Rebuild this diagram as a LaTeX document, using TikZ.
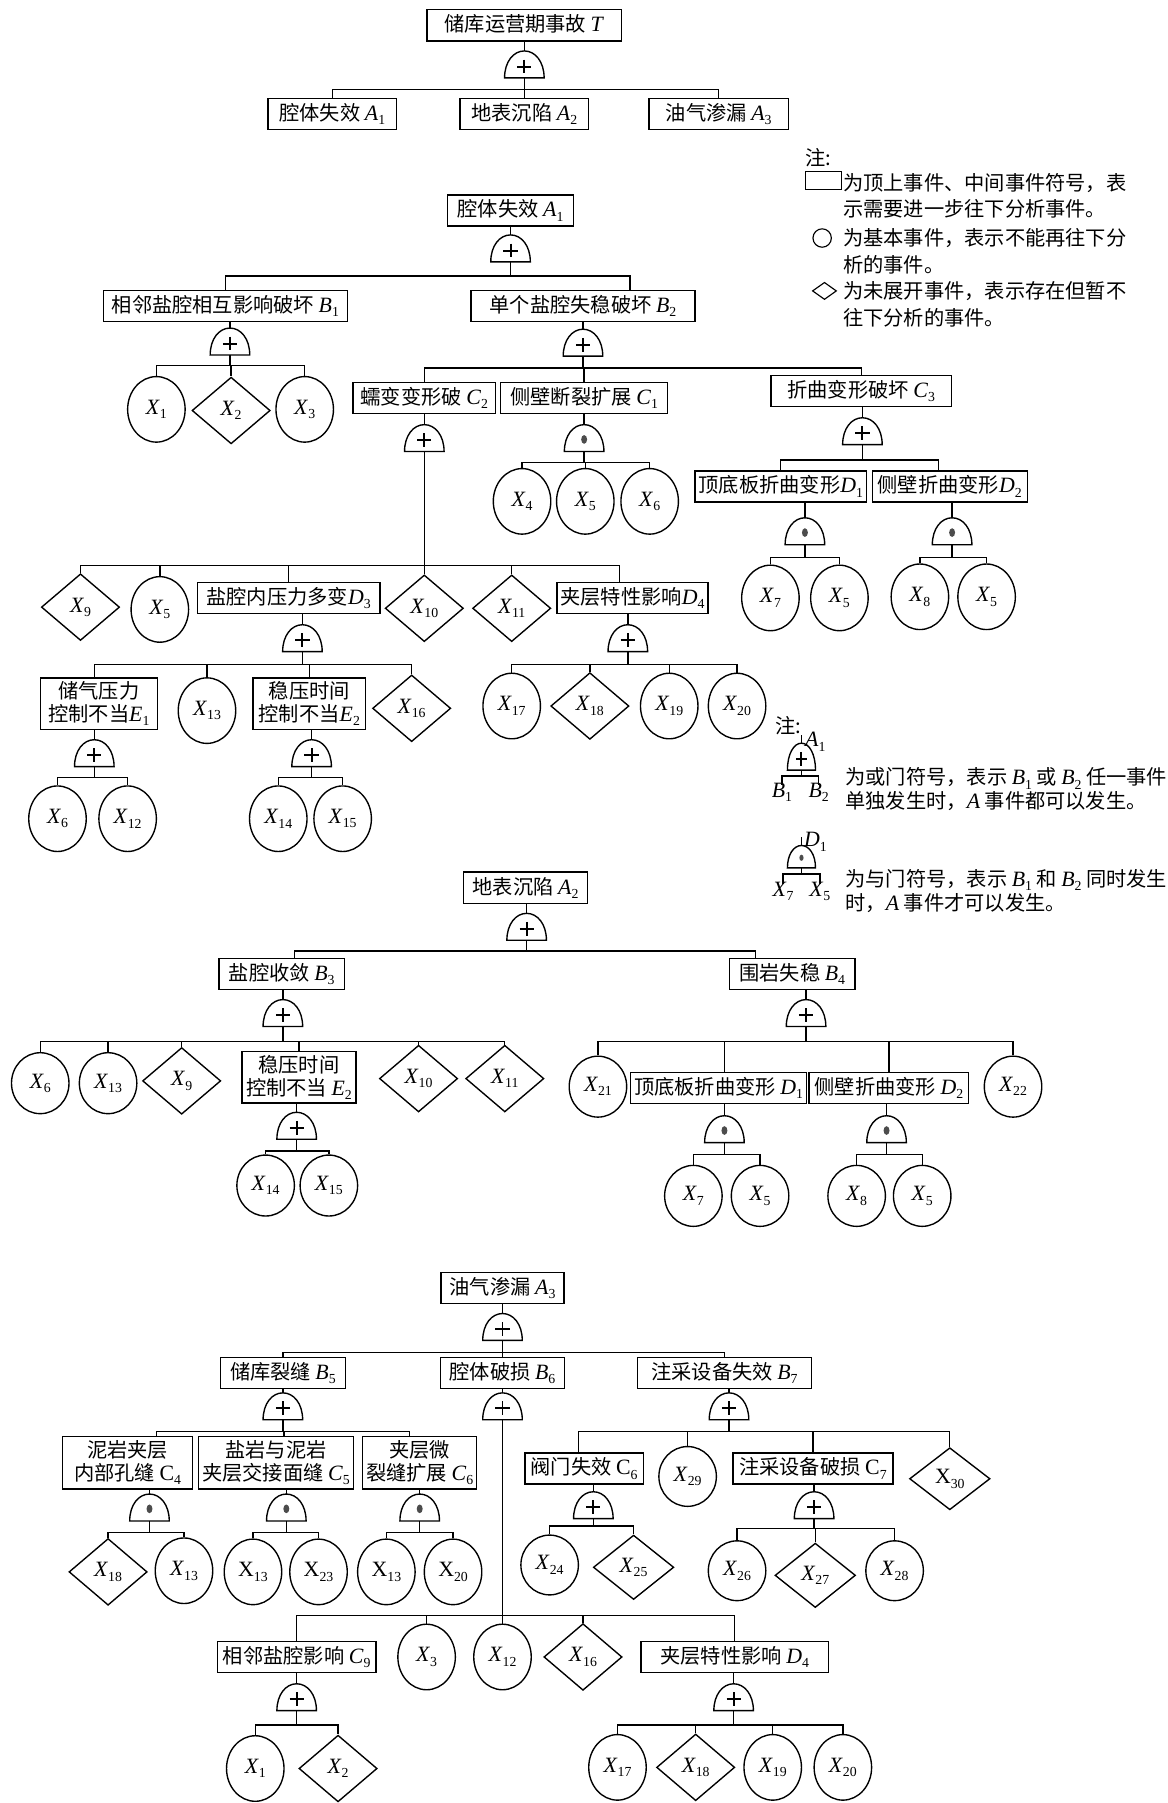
\documentclass[tikz,border=0pt]{standalone}
\usepackage{fontspec}
\setmainfont{Liberation Serif}
\newfontfamily\cjk{Noto Sans CJK SC}
\usetikzlibrary{shapes.geometric, calc}

% event labels: italic letter with upright index
\newcommand{\ev}[2]{{\rmfamily\fontsize{19}{20}\selectfont\textit{#1}\raisebox{-0.2em}{\fontsize{12}{12}\selectfont #2}}}
\newcommand{\evu}[2]{{\rmfamily\fontsize{19}{20}\selectfont #1\raisebox{-0.2em}{\fontsize{12}{12}\selectfont #2}}}

\tikzset{
	every node/.style={font=\cjk\fontsize{17.6}{20}\selectfont, inner sep=0pt},
	wire/.style={line width=1.2pt}, % connectors
	gateline/.style={line width=1.2pt},
	plusline/.style={line width=1.7pt},
	evbox/.style={draw, line width=1.2pt, minimum height=27, inner xsep=3pt, inner ysep=3pt, align=center}, % top and middle events
	basic/.style={draw, ellipse, line width=1.2pt, minimum width=50, minimum height=57}, % basic events
	undev/.style={draw, diamond, line width=1.2pt, minimum width=68, minimum height=58}, % undeveloped events
	gate/.style={minimum width=34, minimum height=23, inner sep=0pt},
}

\newcommand{\gatebody}[1]{\draw[gateline] (#1.south west) .. controls ($(#1.south west)!0.6!(#1.north west)$) and ($(#1.north)!0.55!(#1.north west)$) .. (#1.north) .. controls ($(#1.north)!0.55!(#1.north east)$) and ($(#1.south east)!0.6!(#1.north east)$) .. (#1.south east) -- cycle;}

\newcommand{\orgate}[3][]{%
	\node[gate,#1] (#3) at (#2) {};
	\gatebody{#3}
	\coordinate (#3c) at ($(#3.south)!0.42!(#3.north)$);
	\draw[plusline] ($(#3c)!0.36!(#3c -| #3.west)$) -- ($(#3c)!0.36!(#3c -| #3.east)$)
		($(#3c)!0.45!(#3c |- #3.north)$) -- ($(#3c)!0.6!(#3c |- #3.south)$);}

\newcommand{\andgate}[3][]{%
	\node[gate,#1] (#3) at (#2) {};
	\gatebody{#3}
	\coordinate (#3c) at ($(#3.south)!0.45!(#3.north)$);
	\fill[black!70] let \p1=($(#3.east)-(#3.west)$) in (#3c) ellipse [x radius=0.075*\x1, y radius=0.11*\x1];}

\begin{document}
\begin{tikzpicture}[x=1pt, y=-1pt]
	\useasboundingbox[fill=white] (0,0) rectangle (1015,1568);

	% ---------------- top event
	\node[evbox, minimum width=169] (T) at (456,22) {储库运营期事故 \ev{T}{}};
	\orgate{456,56}{gT}
	\coordinate (bT) at (456,78);
	\node[evbox, minimum width=112] (A1) at (289,99) {腔体失效 \ev{A}{1}};
	\node[evbox, minimum width=112] (A2) at (456,99) {地表沉陷 \ev{A}{2}};
	\node[evbox, minimum width=121] (A3) at (625,99) {油气渗漏 \ev{A}{3}};
	\draw[wire] (gT.north) -- (gT.north |- T.south) (gT.south) -- (bT);
	\foreach \c in {A1,A2,A3} \draw[wire] (bT) -| (\c.north);

	% ---------------- legend of event symbols
	\node[anchor=west] (n1) at (700,137) {注:};
	\node[draw, line width=1pt, minimum width=31, minimum height=15, anchor=west] (k1) at (700,157) {};
	\node[anchor=west] (l1) at (733,159) {为顶上事件、中间事件符号，表};
	\node[anchor=west] (l2) at (733,182) {示需要进一步往下分析事件。};
	\node[draw, circle, line width=1pt, minimum size=16] (k2) at (715,207) {};
	\node[anchor=west] (l3) at (733,207) {为基本事件，表示不能再往下分};
	\node[anchor=west] (l4) at (733,230) {析的事件。};
	\node[draw, diamond, line width=1pt, minimum width=21, minimum height=15] (k3) at (717,253) {};
	\node[anchor=west] (l5) at (733,253) {为未展开事件，表示存在但暂不};
	\node[anchor=west] (l6) at (733,276) {往下分析的事件。};

	% ---------------- A1
	\node[evbox, minimum width=110] (A1b) at (444,183) {腔体失效 \ev{A}{1}};
	\orgate{444,216}{gA1b}
	\coordinate (bA1b) at (444,240);
	\node[evbox, minimum width=212] (B1) at (196,266) {相邻盐腔相互影响破坏 \ev{B}{1}};
	\node[evbox, minimum width=195] (B2) at (507,266) {单个盐腔失稳破坏 \ev{B}{2}};
	\draw[wire] (gA1b.north) -- (gA1b.north |- A1b.south) (gA1b.south) -- (bA1b);
	\draw[wire] (bA1b) -| (B1.north) (bA1b) -| ([xshift=41pt]B2.north);

	\orgate{200,297}{gB1}
	\coordinate (bB1) at (200,318);
	\node[basic] (x1a) at (136,356) {\ev{X}{1}};
	\node[undev] (x2a) at (201,357) {\ev{X}{2}};
	\node[basic] (x3a) at (265,356) {\ev{X}{3}};
	\draw[wire] (gB1.north) -- (gB1.north |- B1.south) (gB1.south) -- (bB1);
	\foreach \c in {x1a,x2a,x3a} \draw[wire] (bB1) -| (\c.north);

	\orgate{507,298}{gB2}
	\coordinate (bB2) at (507,320);
	\node[evbox, minimum width=124] (C2) at (369,346) {蠕变变形破 \ev{C}{2}};
	\node[evbox, minimum width=145] (C1) at (508,346) {侧壁断裂扩展 \ev{C}{1}};
	\node[evbox, minimum width=157] (C3) at (749,340) {折曲变形破坏 \ev{C}{3}};
	\draw[wire] (gB2.north) -- (gB2.north |- B2.south) (gB2.south) -- (bB2);
	\foreach \c in {C2,C1,C3} \draw[wire] (bB2) -| (\c.north);

	\andgate{508,381}{gC1}
	\coordinate (bC1) at (508,402);
	\node[basic] (x4a) at (454,436) {\ev{X}{4}};
	\node[basic] (x5a) at (509,436) {\ev{X}{5}};
	\node[basic] (x6a) at (565,436) {\ev{X}{6}};
	\draw[wire] (gC1.north) -- (gC1.north |- C1.south) (gC1.south) -- (bC1);
	\foreach \c in {x4a,x5a,x6a} \draw[wire] (bC1) -| (\c.north);

	\orgate{750,375}{gC3}
	\coordinate (bC3) at (750,400);
	\node[evbox, minimum width=146] (D1a) at (679,423) {顶底板折曲变形\ev{D}{1}};
	\node[evbox, minimum width=135] (D2a) at (826,423) {侧壁折曲变形\ev{D}{2}};
	\draw[wire] (gC3.north) -- (gC3.north |- C3.south) (gC3.south) -- (bC3);
	\draw[wire] (bC3) -| (D1a.north) (bC3) -| ([xshift=-10pt]D2a.north);

	\andgate{700,462}{gD1a}
	\coordinate (bD1a) at (700,485);
	\node[basic] (x7a) at (670,520) {\ev{X}{7}};
	\node[basic] (x5b) at (730,520) {\ev{X}{5}};
	\draw[wire] (gD1a.north) -- (gD1a.north |- D1a.south) (gD1a.south) -- (bD1a);
	\foreach \c in {x7a,x5b} \draw[wire] (bD1a) -| (\c.north);

	\andgate{828,462}{gD2a}
	\coordinate (bD2a) at (828,485);
	\node[basic] (x8a) at (800,519) {\ev{X}{8}};
	\node[basic] (x5c) at (858,519) {\ev{X}{5}};
	\draw[wire] (gD2a.north) -- (gD2a.north |- D2a.south) (gD2a.south) -- (bD2a);
	\foreach \c in {x8a,x5c} \draw[wire] (bD2a) -| (\c.north);

	\orgate{369,381}{gC2}
	\coordinate (bC2) at (369,492);
	\node[undev] (x9a) at (70,528) {\ev{X}{9}};
	\node[basic] (x5d) at (139,530) {\ev{X}{5}};
	\node[evbox, minimum width=159] (D3) at (251,520) {盐腔内压力多变\ev{D}{3}};
	\node[undev] (x10a) at (369,529) {\ev{X}{10}};
	\node[undev] (x11a) at (445,529) {\ev{X}{11}};
	\node[evbox, minimum width=129] (D4a) at (550,520) {夹层特性影响\ev{D}{4}};
	\draw[wire] (gC2.north) -- (gC2.north |- C2.south) (gC2.south) -- (bC2);
	\foreach \c in {x9a,x5d,D3,x10a,x11a} \draw[wire] (bC2) -| (\c.north);
	\draw[wire] (bC2) -| ([xshift=-11pt]D4a.north);

	\orgate{263,555}{gD3}
	\coordinate (bD3) at (263,578);
	\node[evbox, minimum width=102, minimum height=42] (E1) at (86,612) {储气压力\\控制不当\ev{E}{1}};
	\node[basic] (x13a) at (180,618) {\ev{X}{13}};
	\node[evbox, minimum width=98, minimum height=42] (E2a) at (269,612) {稳压时间\\控制不当\ev{E}{2}};
	\node[undev] (x16a) at (358,616) {\ev{X}{16}};
	\draw[wire] (gD3.north) -- (gD3.north |- D3.south) (gD3.south) -- (bD3);
	\foreach \c in {x13a,E2a,x16a} \draw[wire] (bD3) -| (\c.north);
	\draw[wire] (bD3) -| ([xshift=-4pt]E1.north);

	\orgate{82,655}{gE1}
	\coordinate (bE1) at (82,676);
	\node[basic] (x6b) at (50,712) {\ev{X}{6}};
	\node[basic] (x12a) at (111,712) {\ev{X}{12}};
	\draw[wire] (gE1.north) -- (gE1.north |- E1.south) (gE1.south) -- (bE1);
	\foreach \c in {x6b,x12a} \draw[wire] (bE1) -| (\c.north);

	\orgate{271,655}{gE2a}
	\coordinate (bE2a) at (271,676);
	\node[basic] (x14a) at (242,712) {\ev{X}{14}};
	\node[basic] (x15a) at (298,712) {\ev{X}{15}};
	\draw[wire] (gE2a.north) -- (gE2a.north |- E2a.south) (gE2a.south) -- (bE2a);
	\foreach \c in {x14a,x15a} \draw[wire] (bE2a) -| (\c.north);

	\orgate{546,555}{gD4a}
	\coordinate (bD4a) at (546,578);
	\node[basic] (x17a) at (445,614) {\ev{X}{17}};
	\node[undev] (x18a) at (513,614) {\ev{X}{18}};
	\node[basic] (x19a) at (582,614) {\ev{X}{19}};
	\node[basic] (x20a) at (641,614) {\ev{X}{20}};
	\draw[wire] (gD4a.north) -- (gD4a.north |- D4a.south) (gD4a.south) -- (bD4a);
	\foreach \c in {x17a,x18a,x19a,x20a} \draw[wire] (bD4a) -| (\c.north);

	% ---------------- legend of gate symbols
	\node[anchor=west] (n2) at (674,631) {注:};
	\orgate[minimum width=24, minimum height=23]{697,658}{gL1}
	\node[anchor=west] (lA) at (700,645) {\ev{A}{1}};
	\coordinate (bL1) at (697,675);
	\node (lB1) at (680,689) {\ev{B}{1}};
	\node (lB2) at (712,689) {\ev{B}{2}};
	\draw[wire] (gL1.north) -- ++(0,-7) (gL1.south) -- (bL1);
	\foreach \c in {lB1,lB2} \draw[wire] (bL1) -| ([yshift=-2pt]\c.north);
	\node[anchor=west] (l7) at (735,677) {为或门符号，表示 \ev{B}{1} 或 \ev{B}{2} 任一事件};
	\node[anchor=west] (l8) at (735,698) {单独发生时，\ev{A}{} 事件都可以发生。};

	\andgate[minimum width=24, minimum height=19]{697,745}{gL2}
	\node[anchor=west] (lD) at (699,732) {\ev{D}{1}};
	\coordinate (bL2) at (697,760);
	\node (lX7) at (681,775) {\ev{X}{7}};
	\node (lX5) at (713,775) {\ev{X}{5}};
	\draw[wire] (gL2.north) -- ++(0,-7) (gL2.south) -- (bL2);
	\foreach \c in {lX7,lX5} \draw[wire] (bL2) -| ([yshift=-2pt]\c.north);
	\node[anchor=west] (l9) at (735,765) {为与门符号，表示 \ev{B}{1} 和 \ev{B}{2} 同时发生};
	\node[anchor=west] (l10) at (735,786) {时，\ev{A}{} 事件才可以发生。};

	% ---------------- A2
	\node[evbox, minimum width=108] (A2b) at (457,772) {地表沉陷 \ev{A}{2}};
	\orgate{458,806}{gA2b}
	\coordinate (bA2b) at (458,827);
	\node[evbox, minimum width=109] (B3) at (245,847) {盐腔收敛 \ev{B}{3}};
	\node[evbox, minimum width=109] (B4) at (689,847) {围岩失稳 \ev{B}{4}};
	\draw[wire] (gA2b.north) -- (gA2b.north |- A2b.south) (gA2b.south) -- (bA2b);
	\draw[wire] (bA2b) -| ([xshift=11pt]B3.north) (bA2b) -| ([xshift=-32pt]B4.north);

	\orgate{246,881}{gB3}
	\coordinate (bB3) at (246,906);
	\node[basic, minimum height=53] (x6c) at (35,942) {\ev{X}{6}};
	\node[basic, minimum height=53] (x13b) at (94,942) {\ev{X}{13}};
	\node[undev] (x9b) at (158,940) {\ev{X}{9}};
	\node[evbox, minimum width=99, minimum height=42] (E2b) at (260,937) {稳压时间\\控制不当 \ev{E}{2}};
	\node[undev] (x10b) at (364,938) {\ev{X}{10}};
	\node[undev] (x11b) at (439,938) {\ev{X}{11}};
	\draw[wire] (gB3.north) -- (gB3.north |- B3.south) (gB3.south) -- (bB3);
	\foreach \c in {x6c,x13b,x9b,E2b,x10b,x11b} \draw[wire] (bB3) -| (\c.north);

	\orgate{258,979}{gE2b}
	\coordinate (bE2b) at (258,1001);
	\node[basic, minimum height=53] (x14b) at (231,1031) {\ev{X}{14}};
	\node[basic, minimum height=53] (x15b) at (286,1031) {\ev{X}{15}};
	\draw[wire] (gE2b.north) -- (gE2b.north |- E2b.south) (gE2b.south) -- (bE2b);
	\foreach \c in {x14b,x15b} \draw[wire] (bE2b) -| (\c.north);

	\orgate{701,881}{gB4}
	\coordinate (bB4) at (701,906);
	\node[basic, minimum height=53] (x21) at (520,945) {\ev{X}{21}};
	\node[evbox, minimum width=147] (D1b) at (625,946) {顶底板折曲变形 \ev{D}{1}};
	\node[evbox, minimum width=139] (D2b) at (773,946) {侧壁折曲变形 \ev{D}{2}};
	\node[basic, minimum height=53] (x22) at (881,945) {\ev{X}{22}};
	\draw[wire] (gB4.north) -- (gB4.north |- B4.south) (gB4.south) -- (bB4);
	\foreach \c in {x21,D2b,x22} \draw[wire] (bB4) -| (\c.north);
	\draw[wire] (bB4) -| ([xshift=5pt]D1b.north);

	\andgate{630,982}{gD1b}
	\coordinate (bD1b) at (630,1004);
	\node[basic, minimum height=53] (x7b) at (603,1040) {\ev{X}{7}};
	\node[basic, minimum height=53] (x5e) at (661,1040) {\ev{X}{5}};
	\draw[wire] (gD1b.north) -- (gD1b.north |- D1b.south) (gD1b.south) -- (bD1b);
	\foreach \c in {x7b,x5e} \draw[wire] (bD1b) -| (\c.north);

	\andgate{771,982}{gD2b}
	\coordinate (bD2b) at (771,1004);
	\node[basic, minimum height=53] (x8b) at (745,1040) {\ev{X}{8}};
	\node[basic, minimum height=53] (x5f) at (802,1040) {\ev{X}{5}};
	\draw[wire] (gD2b.north) -- (gD2b.north |- D2b.south) (gD2b.south) -- (bD2b);
	\foreach \c in {x8b,x5f} \draw[wire] (bD2b) -| (\c.north);

	% ---------------- A3
	\node[evbox, minimum width=107] (A3b) at (437,1120) {油气渗漏 \ev{A}{3}};
	\orgate{437,1154}{gA3b}
	\coordinate (bA3b) at (437,1176);
	\node[evbox, minimum width=109] (B5) at (246,1194) {储库裂缝 \ev{B}{5}};
	\node[evbox, minimum width=108] (B6) at (437,1194) {腔体破损 \ev{B}{6}};
	\node[evbox, minimum width=151] (B7) at (630,1194) {注采设备失效 \ev{B}{7}};
	\draw[wire] (gA3b.north) -- (gA3b.north |- A3b.south) (gA3b.south) -- (bA3b);
	\foreach \c in {B5,B6,B7} \draw[wire] (bA3b) -| (\c.north);

	\orgate{246,1223}{gB5}
	\coordinate (bB5) at (246,1245);
	\node[evbox, minimum width=113, minimum height=46] (C4) at (111,1272) {泥岩夹层\\内部孔缝 \evu{C}{4}};
	\node[evbox, minimum width=129, minimum height=46] (C5) at (240,1272) {盐岩与泥岩\\夹层交接面缝 \ev{C}{5}};
	\node[evbox, minimum width=96, minimum height=46] (C6) at (365,1272) {夹层微\\裂缝扩展 \ev{C}{6}};
	\draw[wire] (gB5.north) -- (gB5.north |- B5.south) (gB5.south) -- (bB5);
	\draw[wire] (bB5) -| ([xshift=25pt]C4.north) (bB5) -| ([xshift=7pt]C5.north) (bB5) -| ([xshift=-9pt]C6.north);

	\andgate{130,1311}{gC4}
	\coordinate (bC4) at (130,1333);
	\node[undev] (x18b) at (94,1367) {\ev{X}{18}};
	\node[basic] (x13c) at (160,1366) {\ev{X}{13}};
	\draw[wire] (gC4.north) -- (gC4.north |- C4.south) (gC4.south) -- (bC4);
	\foreach \c in {x18b,x13c} \draw[wire] (bC4) -| (\c.north);

	\andgate{249,1311}{gC5}
	\coordinate (bC5) at (249,1333);
	\node[basic] (x13d) at (220,1367) {\evu{X}{13}};
	\node[basic] (x23) at (277,1367) {\evu{X}{23}};
	\draw[wire] (gC5.north) -- (gC5.north |- C5.south) (gC5.south) -- (bC5);
	\foreach \c in {x13d,x23} \draw[wire] (bC5) -| (\c.north);

	\andgate{365,1311}{gC6}
	\coordinate (bC6) at (365,1333);
	\node[basic] (x13e) at (336,1367) {\evu{X}{13}};
	\node[basic] (x20b) at (394,1367) {\evu{X}{20}};
	\draw[wire] (gC6.north) -- (gC6.north |- C6.south) (gC6.south) -- (bC6);
	\foreach \c in {x13e,x20b} \draw[wire] (bC6) -| (\c.north);

	\orgate{437,1223}{gB6}
	\coordinate (bB6) at (437,1405);
	\node[evbox, minimum width=138] (C9) at (258,1441) {相邻盐腔影响 \ev{C}{9}};
	\node[basic] (x3b) at (371,1441) {\ev{X}{3}};
	\node[basic] (x12b) at (437,1441) {\ev{X}{12}};
	\node[undev] (x16b) at (507,1441) {\ev{X}{16}};
	\node[evbox, minimum width=163] (D4b) at (639,1441) {夹层特性影响 \ev{D}{4}};
	\draw[wire] (gB6.north) -- (gB6.north |- B6.south) (gB6.south) -- (bB6);
	\foreach \c in {C9,x3b,x12b,x16b,D4b} \draw[wire] (bB6) -| (\c.north);

	\orgate{258,1476}{gC9}
	\coordinate (bC9) at (258,1500);
	\node[basic] (x1b) at (222,1538) {\ev{X}{1}};
	\node[undev] (x2b) at (294,1538) {\ev{X}{2}};
	\draw[wire] (gC9.north) -- (gC9.north |- C9.south) (gC9.south) -- (bC9);
	\foreach \c in {x1b,x2b} \draw[wire] (bC9) -| (\c.north);

	\orgate{638,1476}{gD4b}
	\coordinate (bD4b) at (638,1500);
	\node[basic] (x17b) at (537,1537) {\ev{X}{17}};
	\node[undev] (x18c) at (605,1537) {\ev{X}{18}};
	\node[basic] (x19b) at (672,1537) {\ev{X}{19}};
	\node[basic] (x20c) at (733,1537) {\ev{X}{20}};
	\draw[wire] (gD4b.north) -- (gD4b.north |- D4b.south) (gD4b.south) -- (bD4b);
	\foreach \c in {x17b,x18c,x19b,x20c} \draw[wire] (bD4b) -| (\c.north);

	\orgate{634,1223}{gB7}
	\coordinate (bB7) at (634,1245);
	\node[evbox, minimum width=103] (C6v) at (508,1277) {阀门失效 \evu{C}{6}};
	\node[basic, minimum height=52] (x29) at (598,1284) {\ev{X}{29}};
	\node[evbox, minimum width=139] (C7) at (707,1277) {注采设备破损 \evu{C}{7}};
	\node[undev, minimum width=70, minimum height=54] (x30) at (826,1286) {\evu{X}{30}};
	\draw[wire] (gB7.north) -- (gB7.north |- B7.south) (gB7.south) -- (bB7);
	\foreach \c in {x29,C7,x30} \draw[wire] (bB7) -| (\c.north);
	\draw[wire] (bB7) -| ([xshift=-5pt]C6v.north);

	\orgate{516,1309}{gC6v}
	\coordinate (bC6v) at (516,1327);
	\node[basic, minimum height=52] (x24) at (478,1361) {\ev{X}{24}};
	\node[undev, minimum width=70, minimum height=56] (x25) at (551,1363) {\ev{X}{25}};
	\draw[wire] (gC6v.north) -- (gC6v.north |- C6v.south) (gC6v.south) -- (bC6v);
	\foreach \c in {x24,x25} \draw[wire] (bC6v) -| (\c.north);

	\orgate{708,1309}{gC7}
	\coordinate (bC7) at (708,1329);
	\node[basic, minimum height=52] (x26) at (641,1366) {\ev{X}{26}};
	\node[undev, minimum width=70, minimum height=56] (x27) at (709,1370) {\ev{X}{27}};
	\node[basic, minimum height=52] (x28) at (778,1366) {\ev{X}{28}};
	\draw[wire] (gC7.north) -- (gC7.north |- C7.south) (gC7.south) -- (bC7);
	\foreach \c in {x26,x27,x28} \draw[wire] (bC7) -| (\c.north);
\end{tikzpicture}
\end{document}
